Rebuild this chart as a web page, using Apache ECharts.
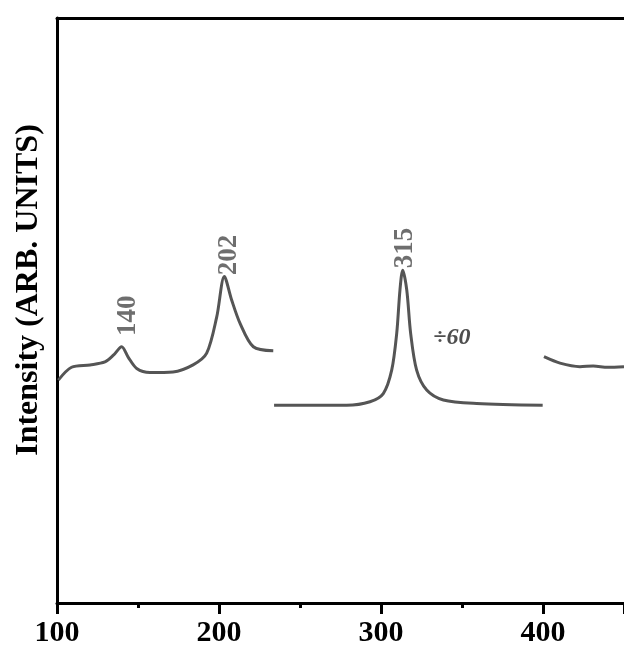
<!DOCTYPE html>
<html>
<head>
<meta charset="utf-8">
<script src="https://cdn.jsdelivr.net/npm/echarts@6/dist/echarts.min.js"></script>
<style>
  html, body { margin: 0; padding: 0; background: #fff; }
  #chart { width: 624px; height: 648px; }
</style>
</head>
<body>
<div id="chart"></div>
<script>
// wavenumber ticks
const xTicks = [100, 200, 300, 400]

// left part: 140 and 202 peaks
const shiftA = [100.8, 109, 120.4, 129.6, 135, 139.9, 144, 149.2, 157.4, 171.6, 184, 192.4, 198.6, 203.3, 207.8, 213, 221.2, 233.5]
const intenA = [38.1, 40.3, 40.7, 41.2, 42.4, 43.8, 42.0, 40.1, 39.4, 39.5, 40.7, 42.7, 48.9, 55.8, 51.8, 47.8, 43.8, 43.1]

// middle part: 315 peak, divided by 60
const shiftB = [234, 278.8, 293.2, 301.4, 306.6, 309.7, 311.7, 313.4, 315.9, 318.3, 322, 328.2, 338.5, 359.1, 399.8]
const intenB = [33.8, 33.8, 34.4, 35.8, 39.8, 46.1, 53.5, 56.9, 53.5, 46.1, 39.8, 36.4, 34.7, 34.1, 33.8]

// right part
const shiftC = [400.6, 410.5, 422.8, 431, 440, 450]
const intenC = [42.1, 41.0, 40.4, 40.5, 40.3, 40.4]

// peak labels
const peakText = ['140', '202', '315']
const peakX = [143.8, 206.2, 314.8]
const peakY = [49.1, 59.5, 60.7]

const lineColor = '#555'

function pairs(xs, ys) {
  return xs.map((x, i) => [x, ys[i]])
}

function lineSeries(xs, ys) {
  return {
    type: 'line',
    data: pairs(xs, ys),
    showSymbol: false,
    smooth: 0.3,
    lineStyle: { color: lineColor, width: 3 },
    silent: true
  }
}

const chart = echarts.init(document.getElementById('chart'))

chart.setOption({
  animation: false,
  grid: { left: 57, right: 0, top: 18, bottom: 45 },
  // y title placed by hand, it sits a bit above the middle of the axis
  graphic: [{
    type: 'text',
    x: 29,
    y: 290,
    rotation: Math.PI / 2,
    style: {
      text: 'Intensity (ARB. UNITS)',
      fill: '#000',
      font: 'bold 32px "Liberation Serif"',
      align: 'center',
      verticalAlign: 'middle'
    }
  }],
  xAxis: [
    {
      type: 'value',
      min: 100,
      max: 450,
      interval: 100,
      splitLine: { show: false },
      axisLine: { lineStyle: { color: '#000', width: 3 } },
      axisTick: { length: 11, lineStyle: { color: '#000', width: 3 } },
      minorTick: { show: true, splitNumber: 2, length: 5, lineStyle: { color: '#000', width: 3 } },
      axisLabel: {
        showMaxLabel: false,
        margin: 15,
        color: '#000',
        fontFamily: 'Liberation Serif',
        fontWeight: 'bold',
        fontSize: 30,
        formatter: v => (xTicks.indexOf(v) >= 0 ? String(v) : '')
      }
    },
    {
      type: 'value',
      position: 'top',
      min: 100,
      max: 450,
      axisLine: { show: true, lineStyle: { color: '#000', width: 3 } },
      axisTick: { show: false },
      axisLabel: { show: false },
      splitLine: { show: false }
    }
  ],
  yAxis: {
    type: 'value',
    min: 0,
    max: 100,
    axisLine: { show: true, lineStyle: { color: '#000', width: 3 } },
    axisTick: { show: false },
    axisLabel: { show: false },
    splitLine: { show: false }
  },
  series: [
    lineSeries(shiftA, intenA),
    lineSeries(shiftB, intenB),
    lineSeries(shiftC, intenC),
    {
      type: 'scatter',
      symbolSize: 0,
      silent: true,
      data: peakX.map((x, i) => ({ value: [x, peakY[i]], name: peakText[i] })),
      label: {
        show: true,
        position: 'inside',
        rotate: 90,
        formatter: p => p.name,
        color: '#4a4a4a',
        fontFamily: 'Liberation Serif',
        fontWeight: 'bold',
        fontSize: 27
      }
    },
    {
      type: 'scatter',
      symbolSize: 0,
      silent: true,
      data: [{ value: [343.8, 45.3], name: '÷60' }],
      label: {
        show: true,
        position: 'inside',
        formatter: p => p.name,
        color: '#222',
        fontFamily: 'Liberation Serif',
        fontWeight: 'bold',
        fontStyle: 'italic',
        fontSize: 24
      }
    }
  ]
})
</script>
</body>
</html>
